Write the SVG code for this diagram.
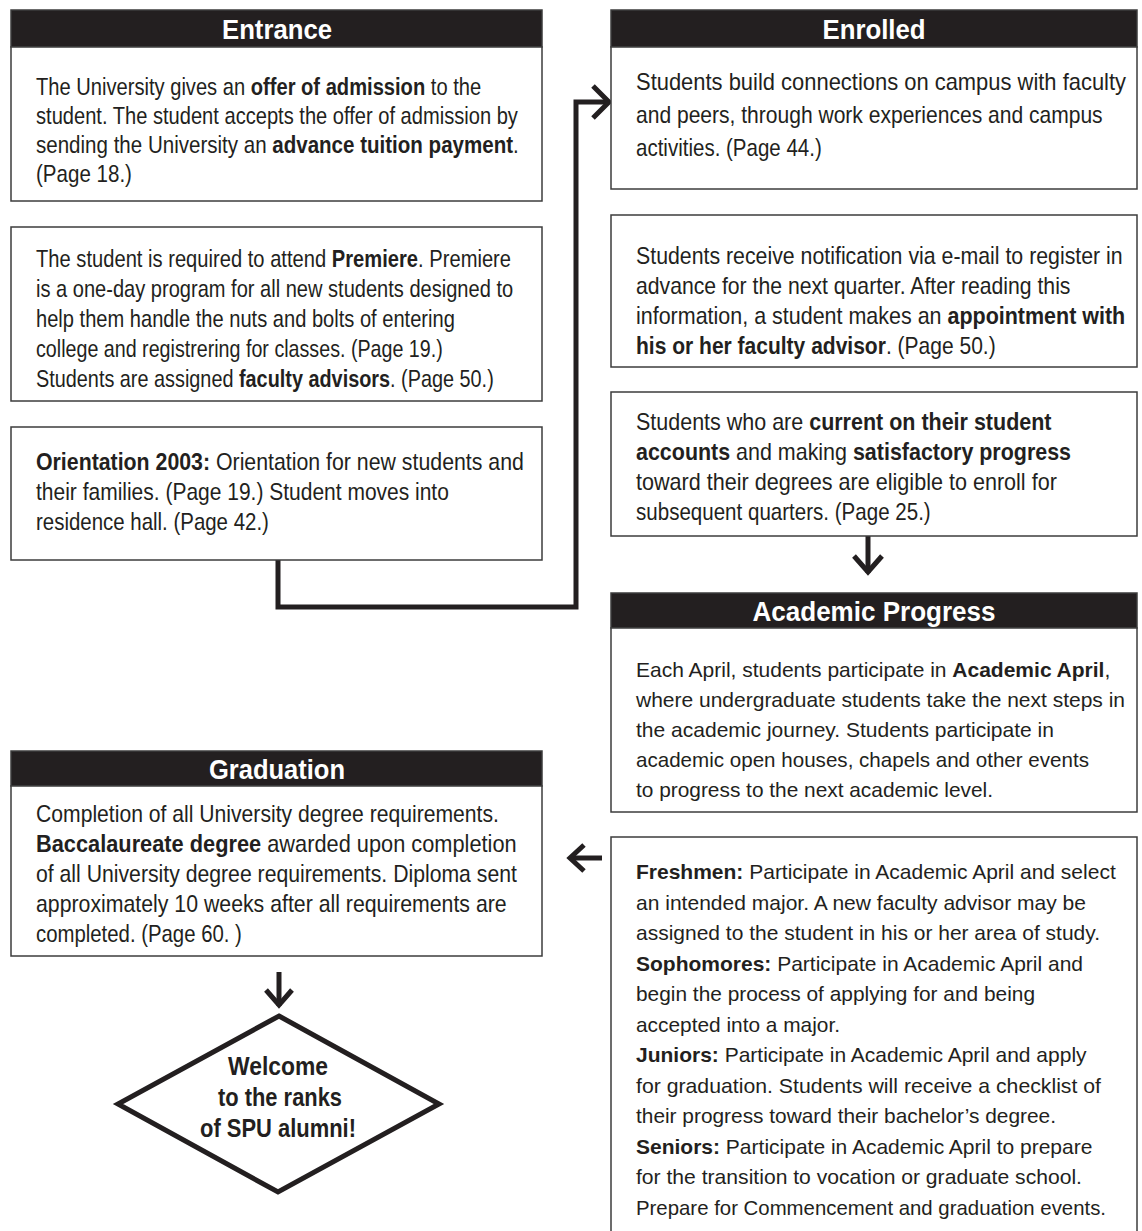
<svg xmlns="http://www.w3.org/2000/svg" width="1142" height="1231" viewBox="0 0 1142 1231">
<style>
.bg{fill:#fff}
.box{fill:#fff;stroke:#3c3c3c;stroke-width:1.5}
.hdr{fill:#231f20;stroke:#3c3c3c;stroke-width:1.5}
.h{font-family:"Liberation Sans",Arial,sans-serif;font-weight:bold;font-size:28px;fill:#fff;text-anchor:middle}
.n{font-family:"Liberation Sans",Arial,sans-serif;font-size:24px;fill:#231f20}
.r{font-family:"Liberation Sans",Arial,sans-serif;font-size:21px;fill:#231f20}
.b{font-weight:bold}
.d{font-family:"Liberation Sans",Arial,sans-serif;font-weight:bold;font-size:25px;fill:#231f20;text-anchor:middle}
.con{fill:none;stroke:#231f20;stroke-width:5;stroke-linejoin:miter}
.dia{fill:#fff;stroke:#231f20;stroke-width:5;stroke-linejoin:miter}
</style>
<rect class="bg" x="0" y="0" width="1142" height="1231"/>

<g id="connectors">
  <path class="con" d="M278,560 V607 H576 V102 H608"/>
  <polyline class="con" points="593,86 609,102 593,118"/>
  <path class="con" d="M868,536 V573"/>
  <polyline class="con" points="854,556 868,572 882,556"/>
  <path class="con" d="M602,858 H570"/>
  <polyline class="con" points="584,845 570,858 584,871"/>
  <path class="con" d="M279,972 V1006"/>
  <polyline class="con" points="266,990 279,1005 292,990"/>
</g>

<g id="entrance-header">
  <rect class="hdr" x="11" y="10" width="531" height="37"/>
  <text class="h" x="277" y="38.5" textLength="110" lengthAdjust="spacingAndGlyphs">Entrance</text>
</g>
<g id="entrance-offer">
  <rect class="box" x="11" y="47" width="531" height="154"/>
  <text class="n" transform="translate(36,95) scale(0.839,1)">The University gives an <tspan class="b">offer of admission</tspan> to the</text>
  <text class="n" transform="translate(36,124) scale(0.838,1)">student. The student accepts the offer of admission by</text>
  <text class="n" transform="translate(36,153) scale(0.856,1)">sending the University an <tspan class="b">advance tuition payment</tspan>.</text>
  <text class="n" transform="translate(36,182) scale(0.857,1)">(Page 18.)</text>
</g>
<g id="entrance-premiere">
  <rect class="box" x="11" y="227" width="531" height="174"/>
  <text class="n" transform="translate(36,267) scale(0.84,1)">The student is required to attend <tspan class="b">Premiere</tspan>. Premiere</text>
  <text class="n" transform="translate(36,297) scale(0.836,1)">is a one-day program for all new students designed to</text>
  <text class="n" transform="translate(36,327) scale(0.8375,1)">help them handle the nuts and bolts of entering</text>
  <text class="n" transform="translate(36,357) scale(0.82,1)">college and registrering for classes. (Page 19.)</text>
  <text class="n" transform="translate(36,387) scale(0.827,1)">Students are assigned <tspan class="b">faculty advisors</tspan>. (Page 50.)</text>
</g>
<g id="entrance-orientation">
  <rect class="box" x="11" y="427" width="531" height="133"/>
  <text class="n" transform="translate(36,470) scale(0.888,1)"><tspan class="b">Orientation 2003:</tspan> Orientation for new students and</text>
  <text class="n" transform="translate(36,500) scale(0.875,1)">their families. (Page 19.) Student moves into</text>
  <text class="n" transform="translate(36,530) scale(0.852,1)">residence hall. (Page 42.)</text>
</g>

<g id="enrolled-header">
  <rect class="hdr" x="611" y="10" width="526" height="37"/>
  <text class="h" x="874" y="38.5" textLength="103" lengthAdjust="spacingAndGlyphs">Enrolled</text>
</g>
<g id="enrolled-connections">
  <rect class="box" x="611" y="47" width="526" height="142"/>
  <text class="n" transform="translate(636,90) scale(0.914,1)">Students build connections on campus with faculty</text>
  <text class="n" transform="translate(636,123) scale(0.877,1)">and peers, through work experiences and campus</text>
  <text class="n" transform="translate(636,156) scale(0.855,1)">activities. (Page 44.)</text>
</g>
<g id="enrolled-register">
  <rect class="box" x="611" y="215" width="526" height="152"/>
  <text class="n" transform="translate(636,264) scale(0.888,1)">Students receive notification via e-mail to register in</text>
  <text class="n" transform="translate(636,294) scale(0.883,1)">advance for the next quarter. After reading this</text>
  <text class="n" transform="translate(636,324) scale(0.895,1)">information, a student makes an <tspan class="b">appointment with</tspan></text>
  <text class="n" transform="translate(636,354) scale(0.876,1)"><tspan class="b">his or her faculty advisor</tspan>. (Page 50.)</text>
</g>
<g id="enrolled-eligible">
  <rect class="box" x="611" y="392" width="526" height="144"/>
  <text class="n" transform="translate(636,430) scale(0.896,1)">Students who are <tspan class="b">current on their student</tspan></text>
  <text class="n" transform="translate(636,460) scale(0.894,1)"><tspan class="b">accounts</tspan> and making <tspan class="b">satisfactory progress</tspan></text>
  <text class="n" transform="translate(636,490) scale(0.899,1)">toward their degrees are eligible to enroll for</text>
  <text class="n" transform="translate(636,520) scale(0.857,1)">subsequent quarters. (Page 25.)</text>
</g>

<g id="academic-header">
  <rect class="hdr" x="611" y="593" width="526" height="35"/>
  <text class="h" x="874" y="620.5" textLength="243" lengthAdjust="spacingAndGlyphs">Academic Progress</text>
</g>
<g id="academic-april">
  <rect class="box" x="611" y="628" width="526" height="184"/>
  <text class="r" x="636" y="677">Each April, students participate in <tspan class="b">Academic April</tspan>,</text>
  <text class="r" x="636" y="707" textLength="489" lengthAdjust="spacingAndGlyphs">where undergraduate students take the next steps in</text>
  <text class="r" x="636" y="737" textLength="418" lengthAdjust="spacingAndGlyphs">the academic journey. Students participate in</text>
  <text class="r" x="636" y="767" textLength="453" lengthAdjust="spacingAndGlyphs">academic open houses, chapels and other events</text>
  <text class="r" x="636" y="797" textLength="357" lengthAdjust="spacingAndGlyphs">to progress to the next academic level.</text>
</g>
<g id="academic-classes">
  <rect class="box" x="611" y="837" width="526" height="410"/>
  <text class="r" x="636" y="879"><tspan class="b">Freshmen:</tspan> Participate in Academic April and select</text>
  <text class="r" x="636" y="909.5" textLength="450" lengthAdjust="spacingAndGlyphs">an intended major. A new faculty advisor may be</text>
  <text class="r" x="636" y="940" textLength="464" lengthAdjust="spacingAndGlyphs">assigned to the student in his or her area of study.</text>
  <text class="r" x="636" y="970.5"><tspan class="b">Sophomores:</tspan> Participate in Academic April and</text>
  <text class="r" x="636" y="1001" textLength="399" lengthAdjust="spacingAndGlyphs">begin the process of applying for and being</text>
  <text class="r" x="636" y="1031.5" textLength="204" lengthAdjust="spacingAndGlyphs">accepted into a major.</text>
  <text class="r" x="636" y="1062"><tspan class="b">Juniors:</tspan> Participate in Academic April and apply</text>
  <text class="r" x="636" y="1092.5" textLength="465" lengthAdjust="spacingAndGlyphs">for graduation. Students will receive a checklist of</text>
  <text class="r" x="636" y="1123" textLength="420" lengthAdjust="spacingAndGlyphs">their progress toward their bachelor’s degree.</text>
  <text class="r" x="636" y="1153.5"><tspan class="b">Seniors:</tspan> Participate in Academic April to prepare</text>
  <text class="r" x="636" y="1184" textLength="446" lengthAdjust="spacingAndGlyphs">for the transition to vocation or graduate school.</text>
  <text class="r" x="636" y="1214.5" textLength="470" lengthAdjust="spacingAndGlyphs">Prepare for Commencement and graduation events.</text>
</g>

<g id="graduation-header">
  <rect class="hdr" x="11" y="751" width="531" height="35"/>
  <text class="h" x="277" y="778.5" textLength="136" lengthAdjust="spacingAndGlyphs">Graduation</text>
</g>
<g id="graduation">
  <rect class="box" x="11" y="786" width="531" height="170"/>
  <text class="n" transform="translate(36,822) scale(0.881,1)">Completion of all University degree requirements.</text>
  <text class="n" transform="translate(36,852) scale(0.908,1)"><tspan class="b">Baccalaureate degree</tspan> awarded upon completion</text>
  <text class="n" transform="translate(36,882) scale(0.884,1)">of all University degree requirements. Diploma sent</text>
  <text class="n" transform="translate(36,912) scale(0.887,1)">approximately 10 weeks after all requirements are</text>
  <text class="n" transform="translate(36,942) scale(0.848,1)">completed. (Page 60. )</text>
</g>

<g id="welcome">
  <polygon class="dia" points="279,1016 439,1104 278,1192 118,1104"/>
  <text class="d" x="278" y="1075" textLength="100" lengthAdjust="spacingAndGlyphs">Welcome</text>
  <text class="d" x="280" y="1106" textLength="124" lengthAdjust="spacingAndGlyphs">to the ranks</text>
  <text class="d" x="278" y="1137" textLength="156" lengthAdjust="spacingAndGlyphs">of SPU alumni!</text>
</g>
</svg>
